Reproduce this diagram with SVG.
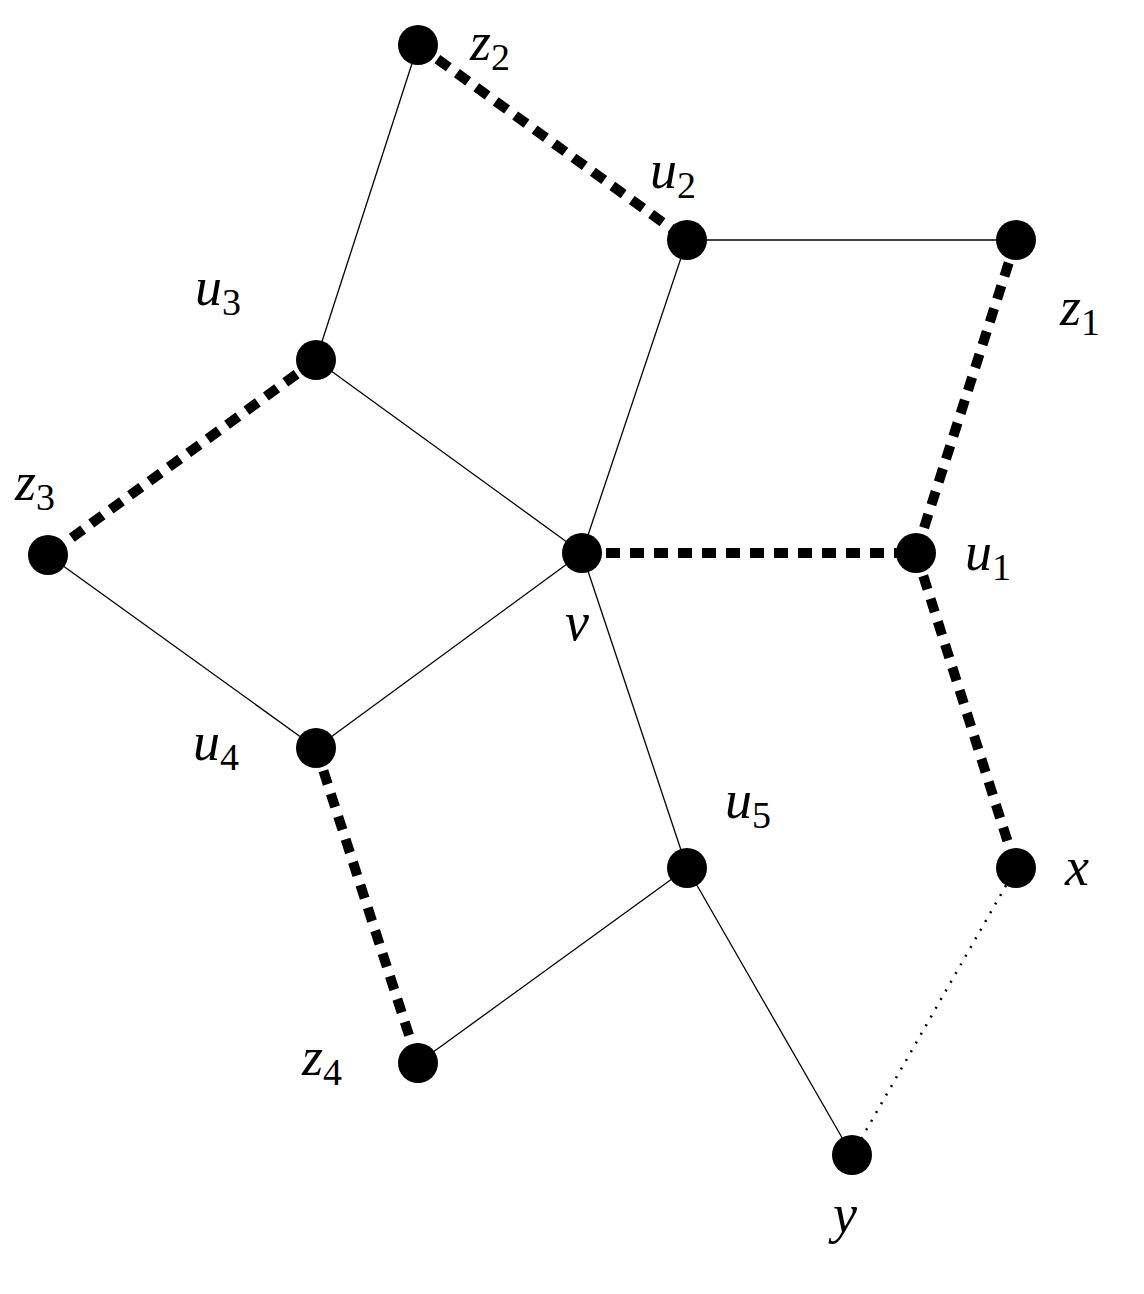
<svg xmlns="http://www.w3.org/2000/svg" width="1144" height="1294" viewBox="0 0 1144 1294">
<style>
.t{stroke:#000;stroke-width:1.3;fill:none}
.d{stroke:#000;stroke-width:10;stroke-dasharray:14 10;fill:none}
.o{stroke:#000;stroke-width:2.5;stroke-dasharray:2 8;fill:none}
circle{fill:#000}
text{font-family:"Liberation Serif",serif;font-style:italic;font-size:54px;fill:#000}
.s{font-size:38px;font-style:normal}
</style>
<rect width="1144" height="1294" fill="#fff"/>
<g id="edges">
<line class="t" x1="418" y1="45" x2="316" y2="360"/>
<line class="t" x1="687" y1="240" x2="1016" y2="240"/>
<line class="t" x1="687" y1="240" x2="582" y2="553"/>
<line class="t" x1="316" y1="360" x2="582" y2="553"/>
<line class="t" x1="48" y1="555" x2="316" y2="748"/>
<line class="t" x1="316" y1="748" x2="582" y2="553"/>
<line class="t" x1="582" y1="553" x2="687" y2="868"/>
<line class="t" x1="687" y1="868" x2="418" y2="1063"/>
<line class="t" x1="687" y1="868" x2="852" y2="1155"/>
<line class="d" x1="418" y1="45" x2="687" y2="240"/>
<line class="d" x1="316" y1="360" x2="48" y2="555"/>
<line class="d" x1="582" y1="553" x2="916" y2="553"/>
<line class="d" x1="1016" y1="240" x2="916" y2="553"/>
<line class="d" x1="916" y1="553" x2="1016" y2="868"/>
<line class="d" x1="316" y1="748" x2="418" y2="1063"/>
<line class="o" x1="1016" y1="868" x2="852" y2="1155"/>
</g>
<g id="z2"><circle cx="418" cy="45" r="20"/><text x="470" y="60">z<tspan class="s" dy="10">2</tspan></text></g>
<g id="u2"><circle cx="687" cy="240" r="20"/><text x="650" y="188">u<tspan class="s" dy="10">2</tspan></text></g>
<g id="z1"><circle cx="1016" cy="240" r="20"/><text x="1060" y="325">z<tspan class="s" dy="10">1</tspan></text></g>
<g id="u3"><circle cx="316" cy="360" r="20"/><text x="195" y="305">u<tspan class="s" dy="10">3</tspan></text></g>
<g id="z3"><circle cx="48" cy="555" r="20"/><text x="15" y="500">z<tspan class="s" dy="10">3</tspan></text></g>
<g id="v"><circle cx="582" cy="553" r="20"/><text x="565" y="640">v</text></g>
<g id="u1"><circle cx="916" cy="553" r="20"/><text x="965" y="570">u<tspan class="s" dy="10">1</tspan></text></g>
<g id="u4"><circle cx="316" cy="748" r="20"/><text x="193" y="760">u<tspan class="s" dy="10">4</tspan></text></g>
<g id="u5"><circle cx="687" cy="868" r="20"/><text x="725" y="818">u<tspan class="s" dy="10">5</tspan></text></g>
<g id="x"><circle cx="1016" cy="868" r="20"/><text x="1065" y="885">x</text></g>
<g id="z4"><circle cx="418" cy="1063" r="20"/><text x="302" y="1075">z<tspan class="s" dy="10">4</tspan></text></g>
<g id="y"><circle cx="852" cy="1155" r="20"/><text x="833" y="1232">y</text></g>
</svg>
